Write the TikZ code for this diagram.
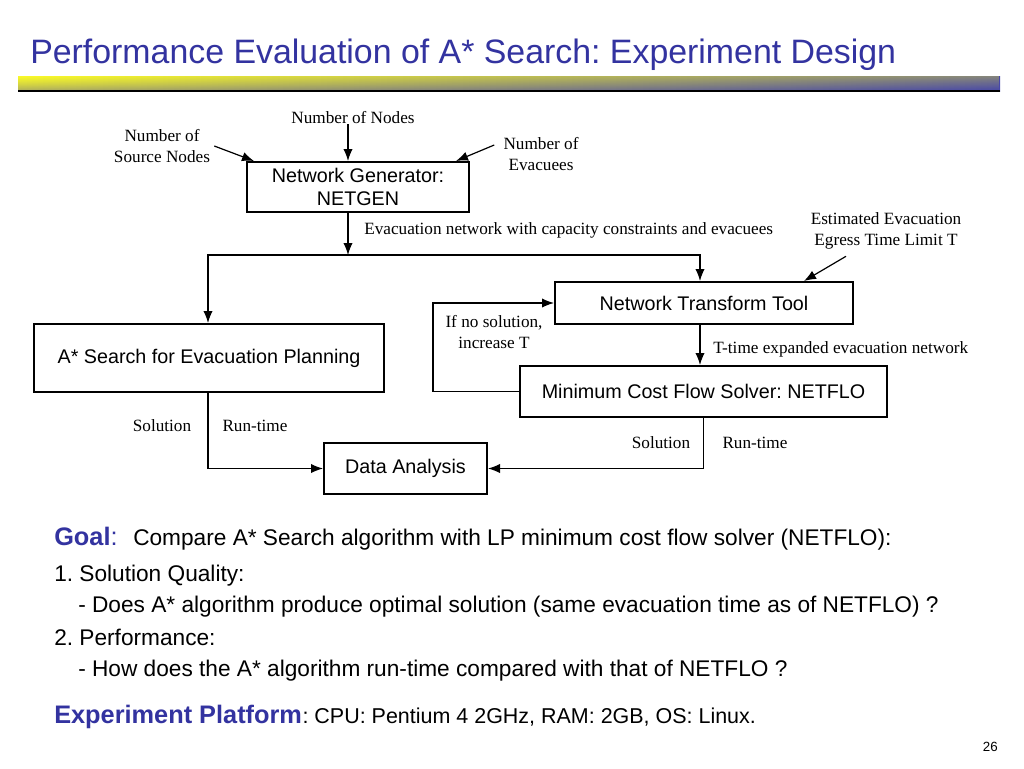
\documentclass[tikz,border=0pt]{standalone}
\usepackage{fontspec}
\setmainfont{Liberation Serif}
\setsansfont{Liberation Sans}
\usetikzlibrary{arrows.meta,fadings}
\definecolor{titleblue}{RGB}{51,51,160}
\definecolor{baryellow}{RGB}{250,250,40}
\definecolor{barblue}{RGB}{70,70,170}
\frenchspacing
\begin{document}
\begin{tikzpicture}[x=0.75pt,y=-0.75pt,
  box/.style={draw,line width=1.5pt,font=\sffamily\fontsize{14.8}{17.8}\selectfont,align=center,inner sep=0pt},
  lbl/.style={font=\fontsize{12.9}{15.3}\selectfont,align=center,inner sep=0pt},
  arr/.style={line width=0.9pt,-{Latex[length=9pt,width=7pt]}},
  ln/.style={line width=0.9pt},
  body/.style={font=\sffamily\fontsize{17}{20}\selectfont,anchor=base west,inner sep=0pt},
  blue/.style={font=\sffamily\bfseries\fontsize{19}{22}\selectfont,text=titleblue,anchor=base west,inner sep=0pt}]
\useasboundingbox (0,0) rectangle (1024,768);
\fill[white] (0,0) rectangle (1024,768);

% title and bar
\node[anchor=base west,inner sep=0pt,text=titleblue,font=\sffamily\fontsize{25.4}{30}\selectfont] (title) at (30,63) {Performance Evaluation of A* Search: Experiment Design};
\shade[left color=baryellow,right color=barblue] (18,76) rectangle (1000,91);
\fill[barblue,path fading=north,fill opacity=0.45] (18,76) rectangle (1000,91);
\fill[baryellow,path fading=south,fill opacity=0.35] (18,76) rectangle (1000,91);
\draw[line width=1pt] (18,91) -- (1000,91);

% boxes
\node[box,minimum width=166.5pt,minimum height=37.5pt] (netgen) at (358,187) {Network Generator:\\NETGEN};
\node[box,minimum width=223.5pt,minimum height=31.5pt] (ntt) at (704,303) {Network Transform Tool};
\node[box,minimum width=275.25pt,minimum height=38.25pt] (mcf) at (703.5,391.5) {Minimum Cost Flow Solver: NETFLO};
\node[box,minimum width=262.5pt,minimum height=51pt] (astar) at (209,358) {A* Search for Evacuation Planning};
\node[box,minimum width=122.25pt,minimum height=38.25pt] (da) at (405.5,468.5) {Data Analysis};

% labels
\node[lbl] (nnodes) at (353,118) {Number of Nodes};
\node[lbl] (src) at (162,146) {Number of\\Source Nodes};
\node[lbl] (evac) at (541,154) {Number of\\Evacuees};
\node[lbl,anchor=west] (evnet) at (364,230) {Evacuation network with capacity constraints and evacuees};
\node[lbl] (est) at (886,231) {Estimated Evacuation\\Egress Time Limit T};
\node[lbl] (nosol) at (494,332) {If no solution,\\increase T};
\node[lbl,anchor=west] (texp) at (713,349) {T-time expanded evacuation network};
\node[lbl] (sol1) at (162,426) {Solution};
\node[lbl] (run1) at (255,426) {Run-time};
\node[lbl] (sol2) at (661,443) {Solution};
\node[lbl] (run2) at (755,443) {Run-time};

% connectors
\draw[arr] ([xshift=-3.75pt]nnodes.south) -- ([xshift=-3.75pt]nnodes.south |- netgen.north);
\draw[arr] ([shift={(4,0)}]src.east) -- ([shift={(8,0)}]netgen.north west);
\draw[arr] ([shift={(-9,-9)}]evac.west) -- ([shift={(-14,0)}]netgen.north east);
\coordinate (split) at (348,255);
\draw[arr] ([xshift=-7.5pt]netgen.south) -- (split);
\draw[arr] (split) -| ([xshift=-0.75pt]astar.north);
\draw[arr] (split) -| ([xshift=-3pt]ntt.north);
\draw[arr] ([shift={(-40,7)}]est.south) -- ([shift={(-50,0)}]ntt.north east);
\coordinate (loopc) at (433,391.5);
\draw[arr] (mcf.west) -- (loopc) |- (ntt.west);
\draw[arr] ([xshift=-3pt]ntt.south) -- ([xshift=-3pt]ntt.south |- mcf.north);
\draw[arr] ([xshift=-0.75pt]astar.south) |- (da.west);
\draw[arr] (mcf.south) |- (da.east);

% text
\node[blue] (goal) at (54,545) {Goal\textmd{:}};
\node[body] (cmp) at (133,545) {Compare A* Search algorithm with LP minimum cost flow solver (NETFLO):};
\node[body] (q1) at (54,581) {1. Solution Quality:};
\node[body] (q1a) at (78,612) {- Does A* algorithm produce optimal solution (same evacuation time as of NETFLO) ?};
\node[body] (q2) at (54,645) {2. Performance:};
\node[body] (q2a) at (78,676) {- How does the A* algorithm run-time compared with that of NETFLO ?};
\node[blue] (plat) at (54,723) {Experiment Platform};
\node[body,anchor=base west,font=\sffamily\fontsize{16.1}{19}\selectfont] (platt) at (plat.base east) {: CPU: Pentium 4 2GHz, RAM: 2GB, OS: Linux.};
\node[anchor=base east,inner sep=0pt,font=\sffamily\fontsize{10}{12}\selectfont] (pg) at (998,751) {26};
\end{tikzpicture}
\end{document}
